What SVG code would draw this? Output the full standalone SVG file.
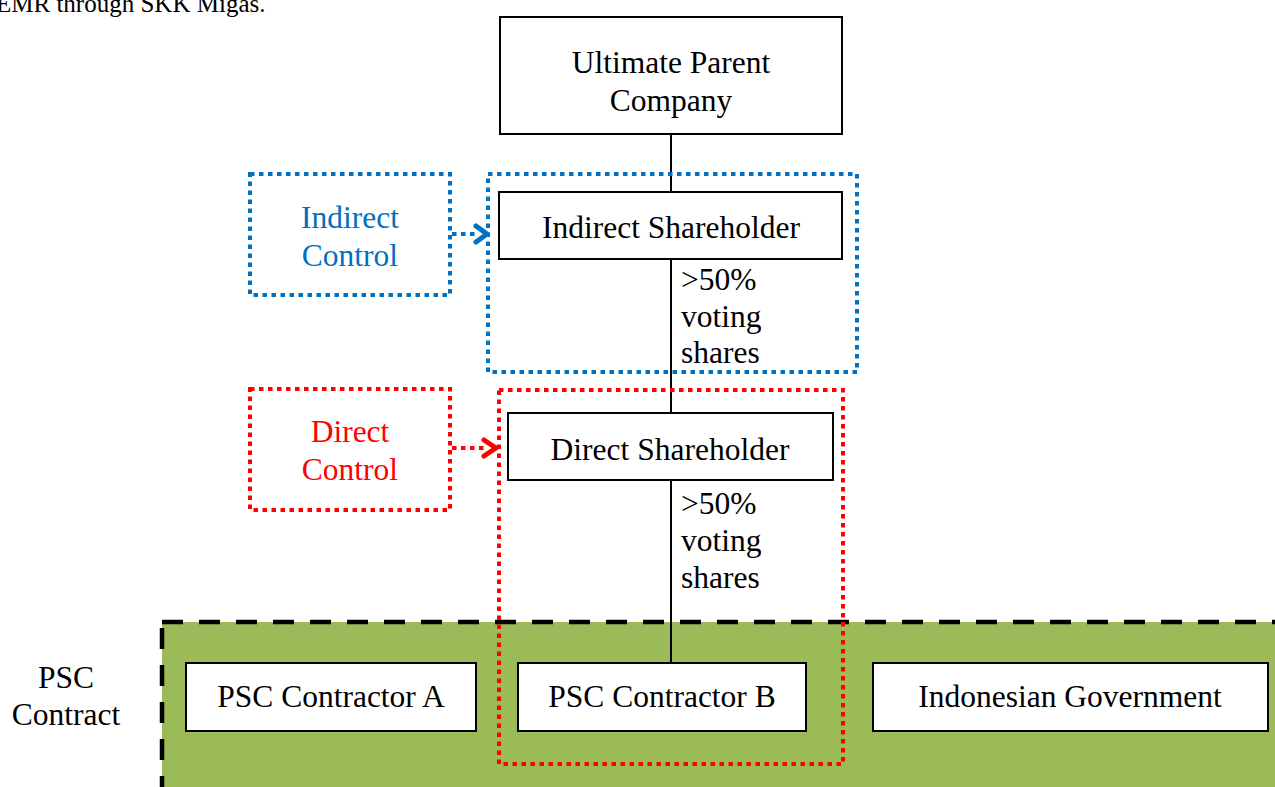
<svg xmlns="http://www.w3.org/2000/svg" width="1275" height="787" viewBox="0 0 1275 787">
<style>
text{font-family:"Liberation Serif","Times New Roman",serif;font-size:31.5px;fill:#000}
.c{text-anchor:middle}
.box{fill:#fff;stroke:#000;stroke-width:2}
.blue{fill:none;stroke:#0070C0;stroke-width:4;stroke-dasharray:4.5 4.5}
.red{fill:none;stroke:#FF0000;stroke-width:4;stroke-dasharray:4.5 4.5}
.link{stroke:#000;stroke-width:2;fill:none}
</style>
<rect width="1275" height="787" fill="#fff"/>
<text x="-4" y="12" style="font-size:25px">EMR through SKK Migas.</text>

<g id="psc-contract">
<rect x="162" y="622" width="1120" height="170" fill="#9BBB59" stroke="#000" stroke-width="4.5" stroke-dasharray="21 16"/>
<text x="66" y="688" class="c">PSC</text>
<text x="66" y="725" class="c">Contract</text>
</g>

<g id="connectors">
<line class="link" x1="671" y1="134" x2="671" y2="192"/>
<line class="link" x1="671" y1="259" x2="671" y2="413"/>
<line class="link" x1="671" y1="480" x2="671" y2="663"/>
<line x1="452" y1="234" x2="478" y2="234" stroke="#0070C0" stroke-width="4" stroke-dasharray="4.5 4.5"/>
<polyline points="476,226 487,234 476,242" fill="none" stroke="#0070C0" stroke-width="5" stroke-linecap="round" stroke-linejoin="round"/>
<line x1="452" y1="448" x2="488" y2="448" stroke="#FF0000" stroke-width="4" stroke-dasharray="4.5 4.5"/>
<polyline points="484,440 496,448 484,456" fill="none" stroke="#FF0000" stroke-width="5" stroke-linecap="round" stroke-linejoin="round"/>
</g>

<g id="ultimate-parent">
<rect class="box" x="500" y="17" width="342" height="117"/>
<text x="671" y="73" class="c">Ultimate Parent</text>
<text x="671" y="111" class="c">Company</text>
</g>

<g id="indirect-group">
<rect class="blue" x="488" y="174" width="369" height="198"/>
</g>

<g id="indirect-shareholder">
<rect class="box" x="499" y="192" width="343" height="67"/>
<text x="671" y="238" class="c">Indirect Shareholder</text>
</g>

<g id="label-1">
<text x="681" y="290">&gt;50%</text>
<text x="681" y="327">voting</text>
<text x="681" y="363">shares</text>
</g>

<g id="indirect-control">
<rect class="blue" x="250" y="174" width="200" height="121"/>
<text x="350" y="228" class="c" style="fill:#0070C0">Indirect</text>
<text x="350" y="266" class="c" style="fill:#0070C0">Control</text>
</g>

<g id="direct-group">
<rect class="red" x="499" y="390" width="344" height="374"/>
</g>

<g id="direct-shareholder">
<rect class="box" x="508" y="413" width="325" height="67"/>
<text x="670" y="460" class="c">Direct Shareholder</text>
</g>

<g id="label-2">
<text x="681" y="514">&gt;50%</text>
<text x="681" y="551">voting</text>
<text x="681" y="588">shares</text>
</g>

<g id="direct-control">
<rect class="red" x="250" y="389" width="200" height="121"/>
<text x="350" y="442" class="c" style="fill:#FF0000">Direct</text>
<text x="350" y="480" class="c" style="fill:#FF0000">Control</text>
</g>

<g id="psc-a">
<rect class="box" x="186" y="663" width="290" height="68"/>
<text x="331" y="707" class="c">PSC Contractor A</text>
</g>
<g id="psc-b">
<rect class="box" x="518" y="663" width="288" height="68"/>
<text x="662" y="707" class="c">PSC Contractor B</text>
</g>
<g id="indonesian-government">
<rect class="box" x="873" y="663" width="395" height="68"/>
<text x="1070" y="707" class="c">Indonesian Government</text>
</g>
</svg>
